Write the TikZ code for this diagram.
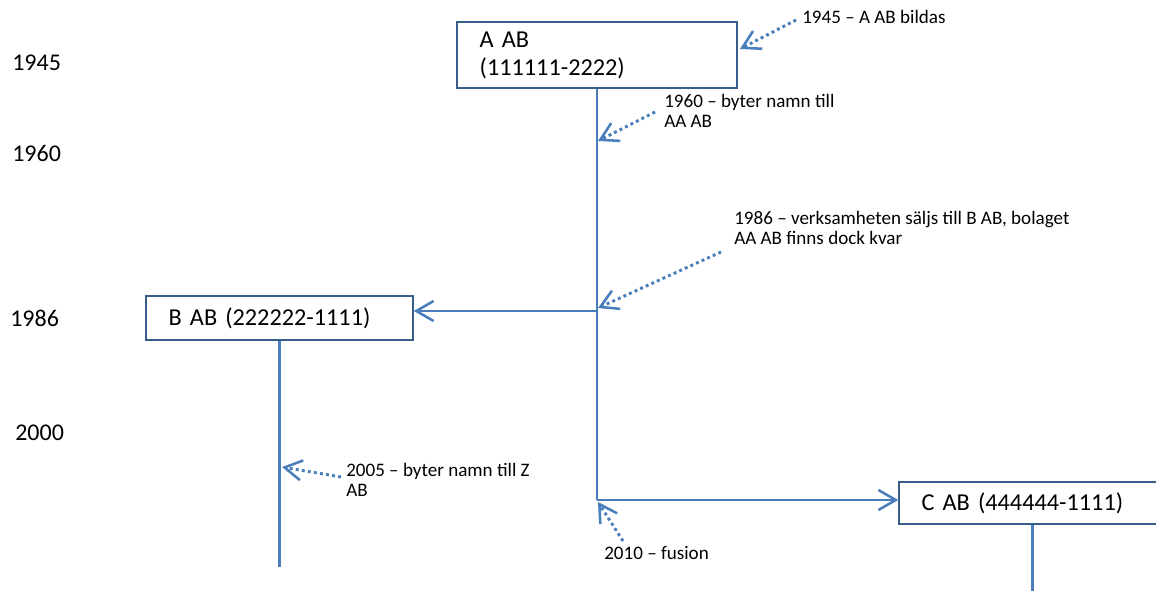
\documentclass[tikz,border=0pt]{standalone}
\usepackage{fontspec}
\setmainfont{Carlito}
\usetikzlibrary{arrows.meta, positioning}
\definecolor{Line_Blue}{HTML}{4A7EBB}
\definecolor{Box_Blue}{HTML}{385D8A}

\begin{document}
\begin{tikzpicture}[
    x=0.75pt, y=-0.75pt,
    >={Straight Barb[length=13pt, width=15pt, line width=1.9pt]},
    company/.style={
        draw=Box_Blue,
        line width=1.1pt,
        fill=white,
        align=left,
        inner xsep=17pt,
        inner ysep=2pt,
        text=black,
        font=\fontsize{18.2}{21}\selectfont
    },
    flow/.style={draw=Line_Blue, line width=1.9pt},
    note/.style={draw=Line_Blue, line width=2.2pt, dash pattern=on 2.2pt off 2.4pt, ->},
    year/.style={anchor=west, inner sep=0pt, font=\fontsize{18}{21}\selectfont},
    event/.style={anchor=west, inner sep=0pt, align=left, font=\fontsize{14.3}{15.5}\selectfont}
]

\useasboundingbox (0,0) rectangle (1156,591);
\clip (0,0) rectangle (1156,591);

% years
\node[year] (y45) at (12,63) {1945};
\node[year] (y60) at (12,153) {1960};
\node[year] (y86) at (10,318) {1986};
\node[year] (y00) at (15,433) {2000};

% companies
\node[company, text width=176pt, minimum height=49.5pt] (A) at (597,55) {A AB\\(111111-2222)};
\node[company, text width=166.25pt, minimum height=33pt] (B) at (279.5,318) {B AB (222222-1111)};
\node[company, text width=166.25pt, minimum height=31.5pt] (C) at (1032.5,503) {C AB (444444-1111)};

\coordinate (split) at (597,311);
\coordinate (merge) at (597,500);
\coordinate (bEnd) at (279.5,567);
\coordinate (cEnd) at (1032.5,600);

% lines
\draw[flow] (A.south) -- (merge);
\draw[flow, ->] (split) -- (B.east |- split);
\draw[flow, ->] (merge) -- (C.west |- merge);
\draw[flow] (B.south) -- (bEnd);
\draw[flow] (C.south) -- (cEnd);

% events
\node[event] (e45) at (802,17) {1945 -- A AB bildas};
\node[event] (e60) at (664,111) {1960 -- byter namn till\\AA AB};
\node[event] (e86) at (734,228) {1986 -- verksamheten säljs till B AB, bolaget\\AA AB finns dock kvar};
\node[event] (e05) at (346,480) {2005 -- byter namn till Z\\AB};
\node[event] (e10) at (604,553) {2010 -- fusion};

\coordinate (t45) at (740,49);
\coordinate (t60) at (598,141);
\coordinate (t86) at (598,308);
\coordinate (t05) at (282,467);
\coordinate (t10) at (598,502);

\draw[note] (796,20) -- (t45);
\draw[note] (655,112) -- (t60);
\draw[note] (721,252) -- (t86);
\draw[note] (341,477) -- (t05);
\draw[note] (623,541) -- (t10);

\end{tikzpicture}
\end{document}
